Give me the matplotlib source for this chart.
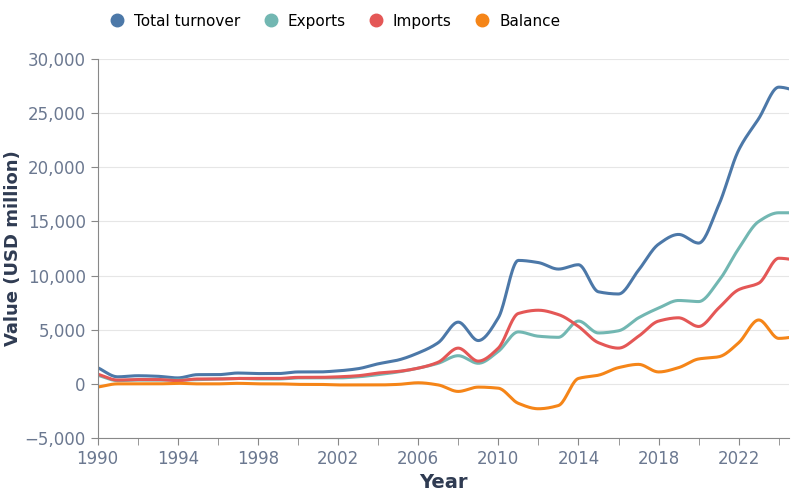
import numpy as np
import matplotlib
matplotlib.use("Agg")
import matplotlib.pyplot as plt
from matplotlib.lines import Line2D

years = list(range(1990, 2026))
total = [1500, 650, 750, 700, 550, 850, 850, 1000, 950, 950, 1100, 1100, 1200, 1400, 1850, 2200,
         2850, 3800, 5700, 4000, 6100, 11400, 11200, 10600, 11000, 8500, 8300, 10500, 12900, 13800,
         13000, 16500, 21600, 24500, 27400, 27000]
exports = [800, 300, 350, 350, 350, 400, 450, 500, 450, 450, 550, 550, 550, 650, 850, 1100,
           1450, 1900, 2600, 1900, 3000, 4800, 4400, 4300, 5800, 4700, 4900, 6100, 7000, 7700,
           7600, 9500, 12500, 15000, 15800, 15800]
imports = [900, 350, 400, 400, 300, 450, 450, 500, 500, 500, 600, 600, 650, 750, 1000, 1150,
           1450, 2000, 3300, 2100, 3300, 6500, 6800, 6400, 5300, 3800, 3300, 4400, 5800, 6100,
           5300, 7000, 8700, 9300, 11600, 11400]
balance = [-300, 0, 0, 0, 50, 0, 0, 50, 0, 0, -50, -50, -100, -100, -100, -50,
           100, -100, -700, -300, -400, -1800, -2300, -2000, 500, 800, 1500, 1800, 1100, 1500,
           2300, 2500, 3800, 5900, 4200, 4400]

series = [("Total turnover", total, "#4c78a8"), ("Exports", exports, "#72b7b2"),
          ("Imports", imports, "#e45756"), ("Balance", balance, "#f58518")]


def monotone(x, y, n=20):
    # Fritsch-Carlson monotone cubic, for smooth drawing only
    x = np.asarray(x, float); y = np.asarray(y, float)
    h = np.diff(x); d = np.diff(y) / h
    m = np.zeros_like(y)
    m[0], m[-1] = d[0], d[-1]
    for i in range(1, len(y) - 1):
        if d[i - 1] * d[i] > 0:
            m[i] = 2 / (1 / d[i - 1] + 1 / d[i])
    xs, ys = [], []
    for i in range(len(h)):
        t = np.linspace(0, 1, n, endpoint=False)
        h00 = 2*t**3 - 3*t**2 + 1; h10 = t**3 - 2*t**2 + t
        h01 = -2*t**3 + 3*t**2; h11 = t**3 - t**2
        xs.extend(x[i] + t*h[i])
        ys.extend(h00*y[i] + h10*h[i]*m[i] + h01*y[i+1] + h11*h[i]*m[i+1])
    xs.append(x[-1]); ys.append(y[-1])
    return xs, ys


fig, ax = plt.subplots(figsize=(8, 5), dpi=100)
fig.subplots_adjust(left=0.122, right=0.986, top=0.882, bottom=0.124)
for name, vals, col in series:
    xs, ys = monotone(years, vals)
    ax.plot(xs, ys, color=col, lw=2.2, solid_capstyle="round")

ax.set_xlim(1990, 2024.5)
ax.set_ylim(-5000, 30000)
ax.set_xticks(range(1990, 2025, 2), minor=True)
ax.set_xticks(range(1990, 2025, 4))
ax.set_yticks(range(-5000, 30001, 5000))
ax.yaxis.set_major_formatter(matplotlib.ticker.FuncFormatter(lambda v, p: f"{int(v):,}".replace("-", "\u2212")))
ax.grid(axis="y", color="#e6e6e6", lw=0.8)
ax.set_axisbelow(True)
for s in ["top", "right"]:
    ax.spines[s].set_visible(False)
for s in ["left", "bottom"]:
    ax.spines[s].set_color("#888888")
ax.tick_params(colors="#888888", labelcolor="#6b7890", labelsize=12, length=5)
ax.tick_params(which="minor", colors="#888888", length=5)
ax.set_xlabel("Year", fontsize=14, fontweight="bold", color="#2f3b52")
ax.set_ylabel("Value (USD million)", fontsize=13, fontweight="bold", color="#2f3b52", labelpad=2)

handles = [Line2D([], [], marker="o", ls="", color=c, markersize=9) for _, _, c in series]
fig.legend(handles, [n for n, _, _ in series], loc="upper left", bbox_to_anchor=(0.11, 1.0),
           ncol=4, frameon=False, fontsize=11, handletextpad=0.1, columnspacing=1.0)
fig.savefig("out.png")
